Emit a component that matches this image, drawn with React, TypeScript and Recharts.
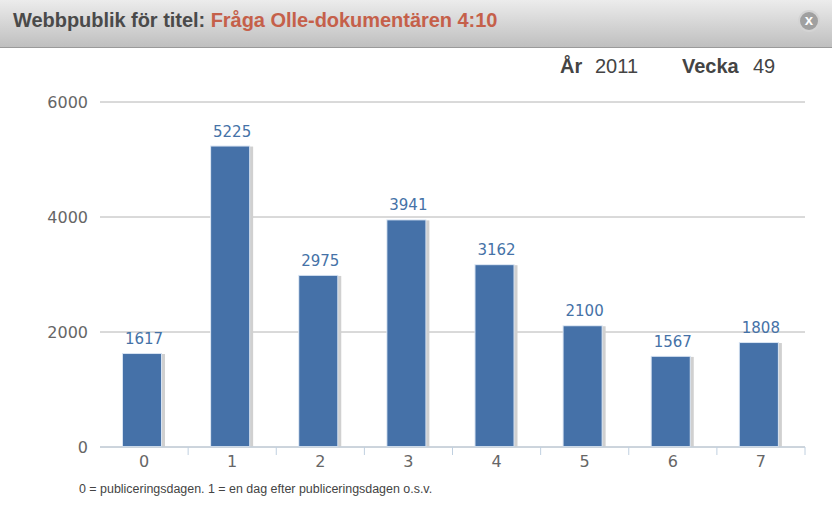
import { BarChart, Bar, XAxis, YAxis, CartesianGrid, LabelList } from 'recharts';

const days = ['0', '1', '2', '3', '4', '5', '6', '7'];
const views = [1617, 5225, 2975, 3941, 3162, 2100, 1567, 1808];
const yTicks = [0, 2000, 4000, 6000];

const chartData = days.map((day, i) => ({ day, views: views[i] }));

const BAND = 705 / days.length;
const TICK_FONT = '"DejaVu Sans", sans-serif';
const HEAD_FONT = '"Liberation Sans", Arial, sans-serif';

// stapel med ljus kant och skugga till höger
const ShadowBar = (props: any) => {
  const { x, y, width, height } = props;
  const left = x - 2;
  return (
    <g>
      <rect x={left + 2} y={y} width={width + 2} height={height} fill="#d0d0d0" />
      <rect x={left - 1} y={y - 1} width={width + 2} height={height + 1} fill="#d6e2f1" />
      <rect x={left} y={y} width={width} height={height - 1} fill="#4571a8" />
    </g>
  );
};

const DayTick = (props: any) => {
  const { x, y, payload } = props;
  return (
    <g>
      <line x1={x + BAND / 2} x2={x + BAND / 2} y1={y - 8} y2={y} stroke="#c0d0e0" />
      <text x={x} y={y + 12} textAnchor="middle" fontFamily={TICK_FONT} fontSize={16} fill="#666">
        {payload.value}
      </text>
    </g>
  );
};

const App = () => {
  return (
    <div style={{ position: 'fixed', left: 0, top: 0, width: 832, height: 512, background: '#fff', overflow: 'hidden' }}>
      <div
        style={{
          position: 'absolute', left: 0, top: 0, width: 832, height: 47,
          background: 'linear-gradient(#ececec, #bfbfbf)', borderBottom: '1px solid #9a9a9a',
        }}
      />
      <div
        style={{
          position: 'absolute', left: 13, top: 9, fontFamily: HEAD_FONT, fontWeight: 700,
          fontSize: 20, letterSpacing: -0.04, color: '#4a4a4a', whiteSpace: 'nowrap',
        }}
      >
        Webbpublik för titel: <span style={{ color: '#c5604a' }}>Fråga Olle-dokumentären 4:10</span>
      </div>
      <div
        style={{
          position: 'absolute', left: 798, top: 10, width: 22, height: 22, borderRadius: 11,
          background: '#a0a0a0', border: '2px solid #d4d4d4', boxSizing: 'border-box', color: '#fff',
          fontFamily: HEAD_FONT, fontWeight: 700, fontSize: 15, lineHeight: '16px', textAlign: 'center',
        }}
      >
        x
      </div>
      <div style={{ position: 'absolute', left: 560, top: 55, fontFamily: HEAD_FONT, fontSize: 20, color: '#444', whiteSpace: 'nowrap' }}>
        <b>År</b>
        <span style={{ position: 'absolute', left: 35 }}>2011</span>
        <b style={{ position: 'absolute', left: 122 }}>Vecka</b>
        <span style={{ position: 'absolute', left: 193 }}>49</span>
      </div>
      <div style={{ position: 'absolute', left: 0, top: 0 }}>
        <BarChart width={832} height={512} data={chartData} margin={{ top: 102, right: 27, bottom: 0, left: 0 }} barSize={38}>
          <CartesianGrid vertical={false} stroke="#b4b4b4" />
          <XAxis
            dataKey="day"
            height={65}
            axisLine={{ stroke: '#c0d0e0' }}
            tickLine={false}
            tick={<DayTick />}
            interval={0}
          />
          <YAxis
            width={100}
            domain={[0, 6000]}
            ticks={yTicks}
            axisLine={false}
            tickLine={false}
            tickMargin={6}
            tick={{ fontFamily: TICK_FONT, fontSize: 16, fill: '#666' }}
          />
          <Bar dataKey="views" shape={<ShadowBar />} isAnimationActive={false}>
            <LabelList dataKey="views" position="top" offset={10} fontFamily={TICK_FONT} fontSize={15} fill="#4572a7" />
          </Bar>
        </BarChart>
      </div>
      <div style={{ position: 'absolute', left: 79, top: 482, fontFamily: HEAD_FONT, fontSize: 12.45, color: '#444', whiteSpace: 'nowrap' }}>
        0 = publiceringsdagen. 1 = en dag efter publiceringsdagen o.s.v.
      </div>
    </div>
  );
};

export default App;
